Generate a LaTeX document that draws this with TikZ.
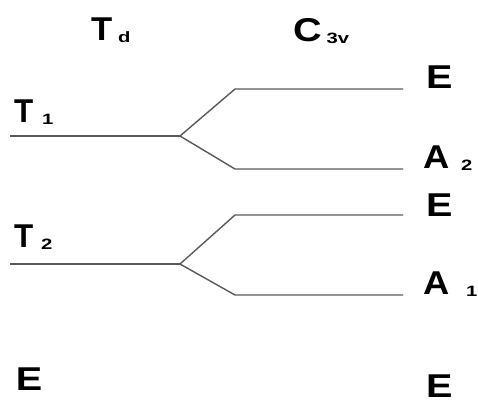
\documentclass[tikz,border=0pt]{standalone}
\usepackage{fontspec}
\setmainfont{Liberation Sans}
\newcommand\biglbl[2]{{\fontsize{33}{33}\selectfont\bfseries\scalebox{#2}[1]{#1}}}
\newcommand\sublbl[2]{\hspace{#2}\raisebox{-2pt}{\fontsize{15}{15}\selectfont\bfseries\scalebox{1.35}[1]{#1}}}
\begin{document}
\begin{tikzpicture}[x=1pt,y=-1pt,
  lbl/.style={anchor=base west,inner sep=0pt,outer sep=0pt,text=black},
  level/.style={draw=black!65,line width=1.4pt}]
\useasboundingbox (0,0) rectangle (478,405);
% headers
\node[lbl] (td) at (91,40) {\biglbl{T}{1.05}\sublbl{d}{6pt}};
\node[lbl] (c3v) at (293,41) {\biglbl{C}{1.2}\sublbl{3v}{5pt}};
% left labels
\node[lbl] (t1) at (14,122) {\biglbl{T}{0.95}\sublbl{1}{9pt}};
\node[lbl] (t2) at (14,247) {\biglbl{T}{0.95}\sublbl{2}{8pt}};
\node[lbl] (eL) at (16,390) {\biglbl{E}{1.2}};
% right labels
\node[lbl] (e1) at (426,88) {\biglbl{E}{1.2}};
\node[lbl] (a2) at (423,168) {\biglbl{A}{1.1}\sublbl{2}{12pt}};
\node[lbl] (e2) at (426,216) {\biglbl{E}{1.2}};
\node[lbl] (a1) at (423,294) {\biglbl{A}{1.1}\sublbl{1}{17pt}};
\node[lbl] (eR) at (426,397) {\biglbl{E}{1.2}};
% level coordinates
\coordinate (t1s) at (10,136);
\coordinate (t1b) at (180,136);
\coordinate (e1s) at (235,89);
\coordinate (e1e) at (403,89);
\coordinate (a2s) at (235,169);
\coordinate (a2e) at (403,169);
\coordinate (t2s) at (10,264);
\coordinate (t2b) at (180,264);
\coordinate (e2s) at (235,215);
\coordinate (e2e) at (403,215);
\coordinate (a1s) at (235,295);
\coordinate (a1e) at (403,295);
% levels
\draw[level] (t1s) -- (t1b);
\draw[level] (t1b) -- (e1s) -- (e1e);
\draw[level] (t1b) -- (a2s) -- (a2e);
\draw[level] (t2s) -- (t2b);
\draw[level] (t2b) -- (e2s) -- (e2e);
\draw[level] (t2b) -- (a1s) -- (a1e);
\end{tikzpicture}
\end{document}
